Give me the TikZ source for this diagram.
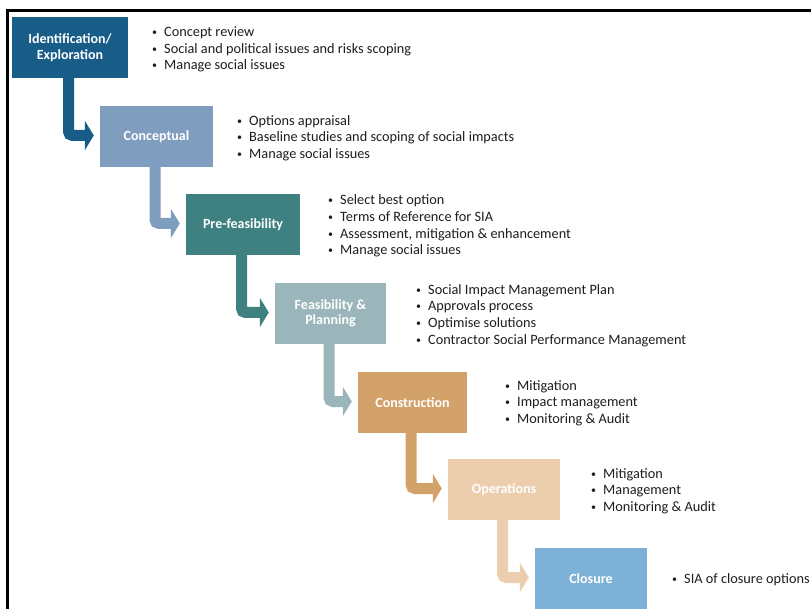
\documentclass[tikz,border=0pt]{standalone}
\usepackage{fontspec}
\setmainfont{Carlito}
\usetikzlibrary{arrows.meta,calc}
\definecolor{c1}{RGB}{24,92,136}
\definecolor{c2}{RGB}{127,157,190}
\definecolor{c3}{RGB}{63,128,128}
\definecolor{c4}{RGB}{155,182,186}
\definecolor{c5}{RGB}{211,161,106}
\definecolor{c6}{RGB}{236,206,174}
\definecolor{c7}{RGB}{125,178,214}
\definecolor{txt}{RGB}{30,30,30}
\newcommand{\blt}[1]{\makebox[12pt][l]{\raisebox{1pt}{\fontsize{10}{10}\selectfont\textbullet}}#1}
\begin{document}
\begin{tikzpicture}[x=1pt,y=-1pt,
  stage/.style={fill=#1, draw=none, minimum width=113pt, minimum height=61pt,
    inner sep=0pt, text=white, font=\fontsize{14}{15.5}\selectfont\bfseries, align=center},
  flow/.style={draw=#1, line width=11pt, rounded corners=4pt,
    -{Triangle[length=9pt,width=29pt]}},
  bullets/.style={anchor=west, inner sep=0pt, align=left,
    font=\fontsize{14.3}{16.7}\selectfont, text=txt}]
\useasboundingbox (0,0) rectangle (811,609);
\clip (0,0) rectangle (811,609);
\fill[white] (0,0) rectangle (811,609);
\draw[line width=3pt] (820,10.5) -| (7,620);

\node[stage=c1, minimum width=116pt] (b1) at (70,47.5) {Identification/\\Exploration};
\node[stage=c2] (b2) at (156.5,136.5) {Conceptual};
\node[stage=c3, minimum width=114pt] (b3) at (243,224.5) {Pre-feasibility};
\node[stage=c4, minimum width=111pt] (b4) at (330.5,313.5) {Feasibility \&\\Planning};
\node[stage=c5, minimum width=109pt] (b5) at (412.5,402.5) {Construction};
\node[stage=c6, minimum width=112pt] (b6) at (504,489.5) {Operations};
\node[stage=c7, minimum width=112pt] (b7) at (591,578.5) {Closure};

\draw[flow=c1] ($(b1.south)+(-1.5,0)$) |- ($(b2.west)+(-6,-1)$);
\draw[flow=c2] ($(b2.south)+(-1.5,0)$) |- ($(b3.west)+(-6,-1)$);
\draw[flow=c3] ($(b3.south)+(-1.5,0)$) |- ($(b4.west)+(-6,-1)$);
\draw[flow=c4] ($(b4.south)+(-1.5,0)$) |- ($(b5.west)+(-6,-1)$);
\draw[flow=c5] ($(b5.south)+(-1.5,0)$) |- ($(b6.west)+(-6,-1)$);
\draw[flow=c6] ($(b6.south)+(-1.5,0)$) |- ($(b7.west)+(-6,-1)$);

\node[bullets] (l1) at (152,49.5) {\blt{Concept review}\\\blt{Social and political issues and risks scoping}\\\blt{Manage social issues}};
\node[bullets] (l2) at (237,138) {\blt{Options appraisal}\\\blt{Baseline studies and scoping of social impacts}\\\blt{Manage social issues}};
\node[bullets] (l3) at (328,226) {\blt{Select best option}\\\blt{Terms of Reference for SIA}\\\blt{Assessment, mitigation \& enhancement}\\\blt{Manage social issues}};
\node[bullets] (l4) at (416,315.5) {\blt{Social Impact Management Plan}\\\blt{Approvals process}\\\blt{Optimise solutions}\\\blt{Contractor Social Performance Management}};
\node[bullets] (l5) at (505,403) {\blt{Mitigation}\\\blt{Impact management}\\\blt{Monitoring \& Audit}};
\node[bullets] (l6) at (591,491) {\blt{Mitigation}\\\blt{Management}\\\blt{Monitoring \& Audit}};
\node[bullets] (l7) at (672,580) {\blt{SIA of closure options}};
\end{tikzpicture}
\end{document}
